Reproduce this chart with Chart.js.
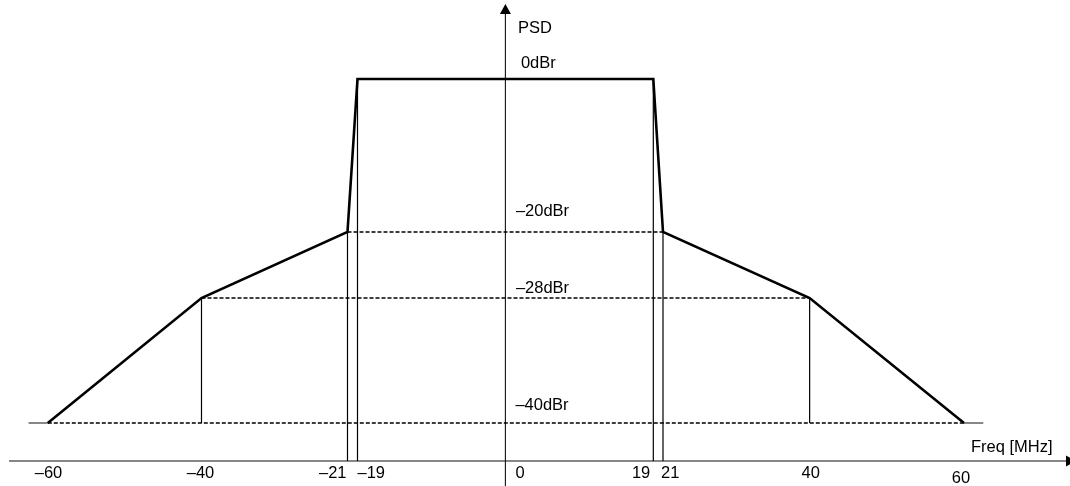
<!DOCTYPE html>
<html lang="en">
<head>
<meta charset="utf-8">
<title>Spectral mask</title>
<script src="https://cdn.jsdelivr.net/npm/chart.js@4.4.0/dist/chart.umd.min.js"></script>
<style>
  body {
    margin: 0;
    background: #fff;
    overflow: hidden;
  }
  .chart-container {
    position: relative;
    width: 1070px;
    height: 486px;
  }
</style>
</head>
<body>
<div class="chart-container">
  <canvas id="maskChart"></canvas>
</div>

<script>
// transmit spectrum mask corners (MHz, dBr)
const maskFreq  = [-60, -40, -21, -19, 19, 21, 40, 60];
const maskLevel = [-40, -28, -20, 0, 0, -20, -28, -40];

// dashed reference levels, each running from -edge to +edge
const refLevel = [-20, -28, -40];
const refEdge  = [21, 40, 60];

// the frequency axis sits a little under -40dBr in the drawing
const axisLevel = -43.65;

// thin vertical markers
const markFreq   = [-40, -21, -19, 19, 21, 40];
const markTop    = [-28, -20, 0, 0, -20, -28];
const markBottom = [-40, axisLevel, axisLevel, axisLevel, axisLevel, -40];

// short solid stubs at -40dBr outside the mask
const stubFreq = [[-62.5, -60], [60, 62.5]];

const levelValues = [0, -20, -28, -40];
const levelLabels = ['0dBr', '–20dBr', '–28dBr', '–40dBr'];

const tickValues = [-60, -40, -21, -19, 0, 19, 21, 40, 60];
const tickLabels = ['–60', '–40', '–21', '–19', '0', '19', '21', '40', '60'];

// ---- layout / style (not data) ----
const FONT = '16.5px "Liberation Sans", Arial, sans-serif';
const levelLabelPos = [[15.5, -11], [10.5, -16], [10.5, -5.5], [10, -13.5]];
const tickLabelPos = [
  ['center', 0.7, 17], ['center', -1, 17], ['right', -1, 17], ['left', 0, 17],
  ['left', 10, 17], ['right', -3, 17], ['left', -2, 17], ['center', 1, 17],
  ['center', -3, 22]
];

// The drawing is schematic: axis spacing is not uniform, so each axis
// maps values through a few anchor points (design pixels of a 1070x486 page).
const axisAnchors = {
  x: { size: 1070, values: [-60, -21, -19, 19, 21, 60], px: [47.8, 347.5, 357.5, 653.3, 663, 964] },
  y: { size: 486, values: [-40, -28, -20, 0], px: [423, 298, 232, 79] }
};

class SchematicScale extends Chart.LinearScale {
  getPixelForValue(value) {
    if (value === null || value === undefined || isNaN(value)) return NaN;
    const a = axisAnchors[this.id];
    const v = a.values, p = a.px;
    let i = 0;
    while (i < v.length - 2 && value > v[i + 1]) i++;
    const design = p[i] + (value - v[i]) * (p[i + 1] - p[i]) / (v[i + 1] - v[i]);
    if (this.isHorizontal()) {
      return this.left + design / a.size * (this.right - this.left);
    }
    return this.top + design / a.size * (this.bottom - this.top);
  }
}
SchematicScale.id = 'schematic';
SchematicScale.defaults = Chart.LinearScale.defaults;
Chart.register(SchematicScale);

// build datasets from the arrays
const maskPoints = maskFreq.map((f, i) => ({ x: f, y: maskLevel[i] }));

const refDatasets = refLevel.map((lvl, i) => ({
  data: [{ x: -refEdge[i], y: lvl }, { x: refEdge[i], y: lvl }],
  borderColor: '#000',
  borderWidth: 1.5,
  borderDash: [4, 2],
  pointRadius: 0
}));

const markPoints = [];
markFreq.forEach((f, i) => {
  markPoints.push({ x: f, y: markTop[i] }, { x: f, y: markBottom[i] }, { x: f, y: null });
});

const stubPoints = [];
stubFreq.forEach(seg => {
  stubPoints.push({ x: seg[0], y: -40 }, { x: seg[1], y: -40 }, { x: seg[1], y: null });
});

// axes, arrows and all text
const drawingPlugin = {
  id: 'drawing',
  beforeDatasetsDraw(chart) {
    const ctx = chart.ctx;
    const xs = chart.scales.x, ys = chart.scales.y;
    const x0 = xs.getPixelForValue(0);
    const yAxis = ys.getPixelForValue(axisLevel);
    const area = chart.chartArea;

    ctx.save();
    ctx.strokeStyle = '#111';
    ctx.fillStyle = '#000';
    ctx.lineWidth = 1.1;

    // vertical PSD axis
    ctx.beginPath();
    ctx.moveTo(x0, area.top + 8);
    ctx.lineTo(x0, area.bottom);
    ctx.stroke();
    ctx.beginPath();
    ctx.moveTo(x0, area.top + 4);
    ctx.lineTo(x0 - 5.5, area.top + 14);
    ctx.lineTo(x0 + 5.5, area.top + 14);
    ctx.closePath();
    ctx.fill();

    // horizontal frequency axis
    ctx.beginPath();
    ctx.moveTo(area.left + 9, yAxis);
    ctx.lineTo(area.right - 2, yAxis);
    ctx.stroke();
    ctx.beginPath();
    ctx.moveTo(area.left + 1076, yAxis);
    ctx.lineTo(area.left + 1066, yAxis - 5.5);
    ctx.lineTo(area.left + 1066, yAxis + 5.5);
    ctx.closePath();
    ctx.fill();
    ctx.restore();
  },
  afterDatasetsDraw(chart) {
    const ctx = chart.ctx;
    const xs = chart.scales.x, ys = chart.scales.y;
    const x0 = xs.getPixelForValue(0);
    const yAxis = ys.getPixelForValue(axisLevel);
    const area = chart.chartArea;

    ctx.save();
    ctx.font = FONT;
    ctx.fillStyle = '#000';
    ctx.textBaseline = 'alphabetic';

    ctx.textAlign = 'left';
    ctx.fillText('PSD', x0 + 12.5, area.top + 33);
    levelValues.forEach((lvl, i) => {
      const pos = levelLabelPos[i];
      ctx.fillText(levelLabels[i], x0 + pos[0], ys.getPixelForValue(lvl) + pos[1]);
    });

    tickValues.forEach((v, i) => {
      const pos = tickLabelPos[i];
      ctx.textAlign = pos[0];
      ctx.fillText(tickLabels[i], xs.getPixelForValue(v) + pos[1], yAxis + pos[2]);
    });

    ctx.textAlign = 'left';
    ctx.fillText('Freq [MHz]', area.left + 971, yAxis - 9.5);
    ctx.restore();
  }
};

const ctx = document.getElementById('maskChart').getContext('2d');
const maskChart = new Chart(ctx, {
  type: 'line',
  data: {
    datasets: [
      ...refDatasets,
      {
        data: stubPoints,
        borderColor: '#111',
        borderWidth: 1.1,
        pointRadius: 0,
        spanGaps: false
      },
      {
        data: markPoints,
        borderColor: '#000',
        borderWidth: 1.2,
        pointRadius: 0,
        spanGaps: false
      },
      {
        data: maskPoints,
        borderColor: '#000',
        borderWidth: 2.6,
        borderJoinStyle: 'miter',
        pointRadius: 0
      }
    ]
  },
  options: {
    responsive: true,
    maintainAspectRatio: false,
    animation: false,
    events: [],
    layout: { padding: 0 },
    elements: { line: { tension: 0, fill: false } },
    plugins: {
      legend: { display: false },
      tooltip: { enabled: false }
    },
    scales: {
      x: { type: 'schematic', display: false, min: -66, max: 74 },
      y: { type: 'schematic', display: false, min: -46, max: 10 }
    }
  },
  plugins: [drawingPlugin]
});
</script>
</body>
</html>
